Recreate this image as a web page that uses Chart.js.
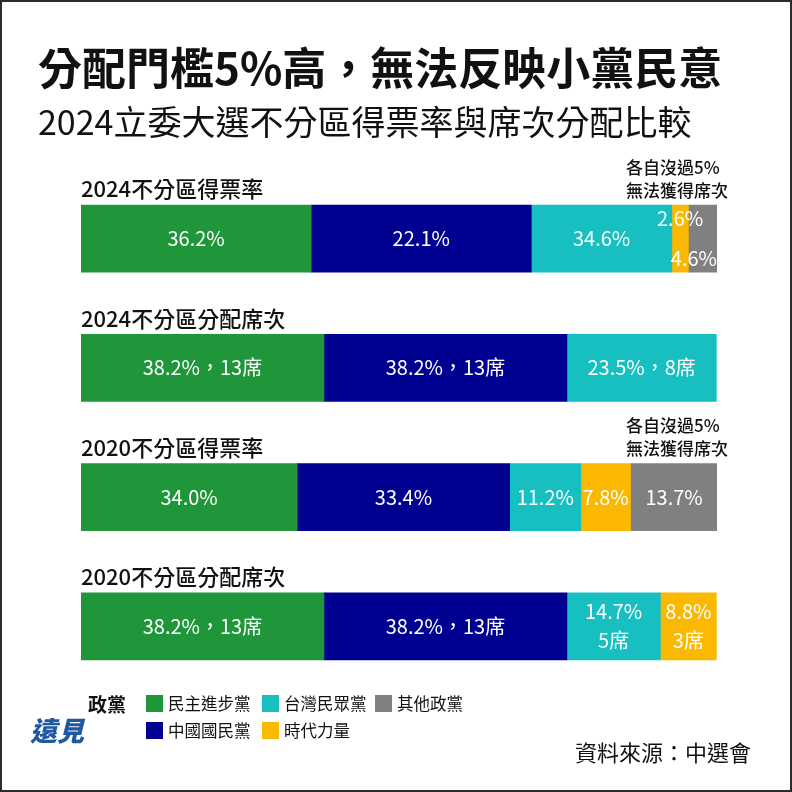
<!DOCTYPE html>
<html lang="zh-Hant">
<head>
<meta charset="utf-8">
<title>分配門檻5%高，無法反映小黨民意</title>
<script src="https://cdn.jsdelivr.net/npm/chart.js@4.4.1/dist/chart.umd.min.js"></script>
<style>
  body { margin: 0; background: #fff; font-family: "Noto Sans CJK TC", "Noto Sans", sans-serif; }
  #page { position: relative; width: 792px; height: 792px; overflow: hidden; background: #fff; }
  #frame { position: absolute; left: 0; top: 0; width: 792px; height: 792px; box-sizing: border-box; border: 2px solid #2b2b2b; pointer-events: none; }
  #chart-wrap { position: absolute; left: 0; top: 0; width: 792px; height: 792px; }
  .txt { position: absolute; white-space: nowrap; line-height: 1; color: #111; }
  #title { left: 38px; top: 44px; font-size: 44px; font-weight: 700; }
  #subtitle { left: 38px; top: 104px; font-size: 34px; font-weight: 400; }
  #source { right: 41px; top: 740px; font-size: 22px; }
  #logo { left: 30px; top: 716px; font-size: 27px; font-weight: 900; font-style: italic; color: #1d5aa3; }
  #legend-title { left: 88px; top: 694px; font-size: 19px; font-weight: 700; }
  .leg-item { position: absolute; display: flex; align-items: center; font-size: 16.5px; line-height: 1; white-space: nowrap; color: #111; }
  .leg-box { width: 17px; height: 17px; margin-right: 5px; }
</style>
</head>
<body>
<div id="page">
  <div id="chart-wrap"><canvas id="seatChart"></canvas></div>
  <div class="txt" id="title">分配門檻5%高，無法反映小黨民意</div>
  <div class="txt" id="subtitle">2024立委大選不分區得票率與席次分配比較</div>
  <div class="txt" id="legend-title">政黨</div>
  <div id="legend"></div>
  <div class="txt" id="logo">遠見</div>
  <div class="txt" id="source">資料來源：中選會</div>
  <div id="frame"></div>
</div>
<script>
// --- Datos ---
const categories = ['2024不分區得票率', '2024不分區分配席次', '2020不分區得票率', '2020不分區分配席次'];
const parties = ['民主進步黨', '中國國民黨', '台灣民眾黨', '時代力量', '其他政黨'];
const partyColors = ['#1f963a', '#000091', '#17bfc0', '#fab800', '#808080'];

// porcentajes (ancho de cada segmento)
const dppValues = [36.2, 38.2, 34.0, 38.2];
const kmtValues = [34.6, 38.2, 33.4, 38.2];
const tppValues = [22.1, 23.5, 11.2, 14.7];
const nppValues = [2.6, null, 7.8, 8.8];
const otherValues = [4.6, null, 13.7, null];

// texto que se muestra dentro de cada segmento (tal como aparece en el original)
const dppLabels = ['36.2%', '38.2%，13席', '34.0%', '38.2%，13席'];
const kmtLabels = ['22.1%', '38.2%，13席', '33.4%', '38.2%，13席'];
const tppLabels = ['34.6%', '23.5%，8席', '11.2%', ['14.7%', '5席']];
const nppLabels = ['2.6%', '', '7.8%', ['8.8%', '3席']];
const otherLabels = ['4.6%', '', '13.7%', ''];

// notas sobre algunas barras
const rowNotes = [['各自沒過5%', '無法獲得席次'], null, ['各自沒過5%', '無法獲得席次'], null];

// orden de la leyenda: [fila, columna]
const legendOrder = [[0, 0], [1, 0], [0, 1], [1, 1], [0, 2]];

const seriesValues = [dppValues, kmtValues, tppValues, nppValues, otherValues];
const seriesLabels = [dppLabels, kmtLabels, tppLabels, nppLabels, otherLabels];

const FONT = '"Noto Sans CJK TC", "Noto Sans", sans-serif';

// --- Leyenda HTML ---
const legendEl = document.getElementById('legend');
const legCols = [146, 262, 375];
const legRows = [695, 722];
legendEl.innerHTML = parties.map((p, i) => {
    const [r, c] = legendOrder[i];
    return `<div class="leg-item" style="left:${legCols[c]}px;top:${legRows[r]}px">
        <div class="leg-box" style="background:${partyColors[i]}"></div>${p}</div>`;
}).join('');

// --- Plugin: títulos de fila, notas y etiquetas de segmentos ---
const rowTextPlugin = {
    id: 'rowText',
    afterDatasetsDraw(chart) {
        const ctx = chart.ctx;
        const area = chart.chartArea;
        const thick = 67;
        ctx.save();

        categories.forEach((cat, i) => {
            const el0 = chart.getDatasetMeta(0).data[i];
            const barTop = el0.y - thick / 2;

            // título de la fila
            ctx.fillStyle = '#111';
            ctx.font = `500 22px ${FONT}`;
            ctx.textAlign = 'left';
            ctx.textBaseline = 'bottom';
            ctx.fillText(cat, area.left, barTop - 5);

            // nota
            if (rowNotes[i]) {
                ctx.font = `500 17px ${FONT}`;
                ctx.textBaseline = 'middle';
                rowNotes[i].forEach((line, k) => {
                    ctx.fillText(line, area.right - 91, barTop - 38 + k * 23);
                });
            }

            // etiquetas dentro de los segmentos
            ctx.font = `20px ${FONT}`;
            ctx.fillStyle = '#fff';
            ctx.textAlign = 'center';
            ctx.textBaseline = 'middle';
            let stagger = 0;
            chart.data.datasets.forEach((ds, d) => {
                const el = chart.getDatasetMeta(d).data[i];
                const text = seriesLabels[d][i];
                if (!el || !text || seriesValues[d][i] == null) return;
                const lines = [].concat(text);
                const left = Math.min(el.x, el.base);
                const right = Math.max(el.x, el.base);
                const w = Math.max(...lines.map(l => ctx.measureText(l).width));
                let cx = (left + right) / 2;
                let cy = el.y;
                if (w > right - left + 4) {
                    cy = el.y + (stagger++ % 2 === 0 ? -20 : 20);
                    cx = Math.min(cx, area.right - w / 2);
                }
                lines.forEach((l, k) => {
                    ctx.fillText(l, cx, cy + (k - (lines.length - 1) / 2) * 29);
                });
            });
        });
        ctx.restore();
    }
};

// --- Gráfico ---
new Chart(document.getElementById('seatChart').getContext('2d'), {
    type: 'bar',
    data: {
        labels: categories,
        datasets: parties.map((p, i) => ({
            label: p,
            data: seriesValues[i],
            backgroundColor: partyColors[i],
            borderWidth: 0,
            barThickness: 67
        }))
    },
    options: {
        indexAxis: 'y',
        responsive: true,
        maintainAspectRatio: false,
        animation: false,
        layout: { padding: { left: 81, right: 75, top: 174, bottom: 101 } },
        scales: {
            x: { stacked: true, min: 0, max: 100, display: false },
            y: { stacked: true, display: false }
        },
        plugins: {
            legend: { display: false },
            tooltip: { enabled: false }
        }
    },
    plugins: [rowTextPlugin]
});
</script>
</body>
</html>
